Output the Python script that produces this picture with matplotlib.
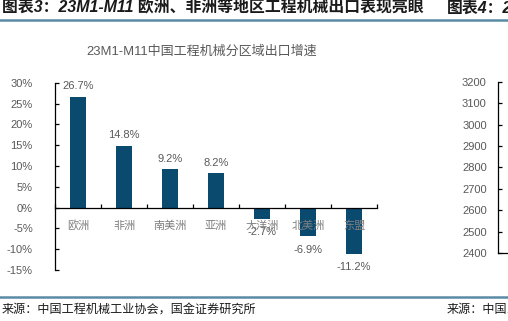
import numpy as np
import matplotlib
matplotlib.use("Agg")
import matplotlib.pyplot as plt

plt.rcParams['font.family'] = ['Liberation Sans', 'Noto Sans CJK SC', 'DejaVu Sans']

# data
regions = ['欧洲', '非洲', '南美洲', '亚洲', '大洋洲', '北美洲', '东盟']
growth = [26.7, 14.8, 9.2, 8.2, -2.7, -6.9, -11.2]   # %
yticks = [-15, -10, -5, 0, 5, 10, 15, 20, 25, 30]
right_ticks = [2400, 2500, 2600, 2700, 2800, 2900, 3000, 3100, 3200]

title = '23M1-M11中国工程机械分区域出口增速'
header = '图表3：23M1-M11 欧洲、非洲等地区工程机械出口表现亮眼'
header2 = '图表4：2'
source = '来源：中国工程机械工业协会，国金证券研究所'
source2 = '来源：中国.'

bar_col = '#0B4A6F'
grey = '#595959'

fig = plt.figure(figsize=(5.08, 3.21), dpi=100)

# header / footer
fig.text(0.004, 0.975, header, fontsize=11.4, fontweight='bold', style='italic',
         color='#1a1a1a', va='center', ha='left')
fig.text(0.880, 0.975, header2, fontsize=11.4, fontweight='bold', style='italic',
         color='#1a1a1a', va='center', ha='left')
fig.add_artist(plt.Line2D([0, 1], [0.939, 0.939], color='#5A8BA5', lw=1.8))
fig.add_artist(plt.Line2D([0, 1], [0.075, 0.075], color='#5A8BA5', lw=1.8))
fig.text(0.004, 0.034, source, fontsize=8.7, color='#1a1a1a', va='center', ha='left')
fig.text(0.880, 0.034, source2, fontsize=8.7, color='#1a1a1a', va='center', ha='left')

fig.text(0.397, 0.838, title, fontsize=9.4, color=grey, ha='center', va='center')

# main chart
ax = fig.add_axes([0.1083, 0.159, 0.634, 0.583])
x = np.arange(len(regions))
ax.bar(x, growth, width=0.34, color=bar_col, zorder=2)
ax.set_xlim(-0.5, len(regions) - 0.5)
ax.set_ylim(-15, 30)
ax.set_yticks(yticks)
ax.set_yticklabels([f'{v}%' for v in yticks])
ax.set_xticks(np.arange(len(regions) + 1) - 0.5)
ax.set_xticklabels([])
ax.spines['bottom'].set_position(('data', 0))
for s in ['top', 'right']:
    ax.spines[s].set_visible(False)
for s in ['left', 'bottom']:
    ax.spines[s].set_linewidth(0.9)
ax.tick_params(axis='y', direction='in', length=3, width=0.9, labelsize=8,
               labelcolor=grey, pad=16)
ax.tick_params(axis='x', direction='in', length=3, width=0.9)

for xi, v in zip(x, growth):
    if v >= 0:
        ax.annotate(f'{v}%', (xi, v), xytext=(0, 4), textcoords='offset points',
                    ha='center', va='bottom', fontsize=8, color=grey)
    else:
        ax.annotate(f'{v}%', (xi, v), xytext=(0, -6), textcoords='offset points',
                    ha='center', va='top', fontsize=8, color=grey)
for xi, r in zip(x, regions):
    ax.text(xi, -4.3, r, ha='center', va='center', fontsize=8, color='#7f7f7f', zorder=3)

# cut-off chart on the right
ax2 = fig.add_axes([0.980, 0.212, 0.3, 0.533])
ax2.set_ylim(2400, 3200)
ax2.set_yticks(right_ticks)
ax2.set_xticks([])
for s in ['top', 'right']:
    ax2.spines[s].set_visible(False)
for s in ['left', 'bottom']:
    ax2.spines[s].set_linewidth(0.9)
ax2.tick_params(axis='y', direction='in', length=3, width=0.9, labelsize=8,
                labelcolor=grey, pad=8)

fig.savefig('out.png', dpi=100)
